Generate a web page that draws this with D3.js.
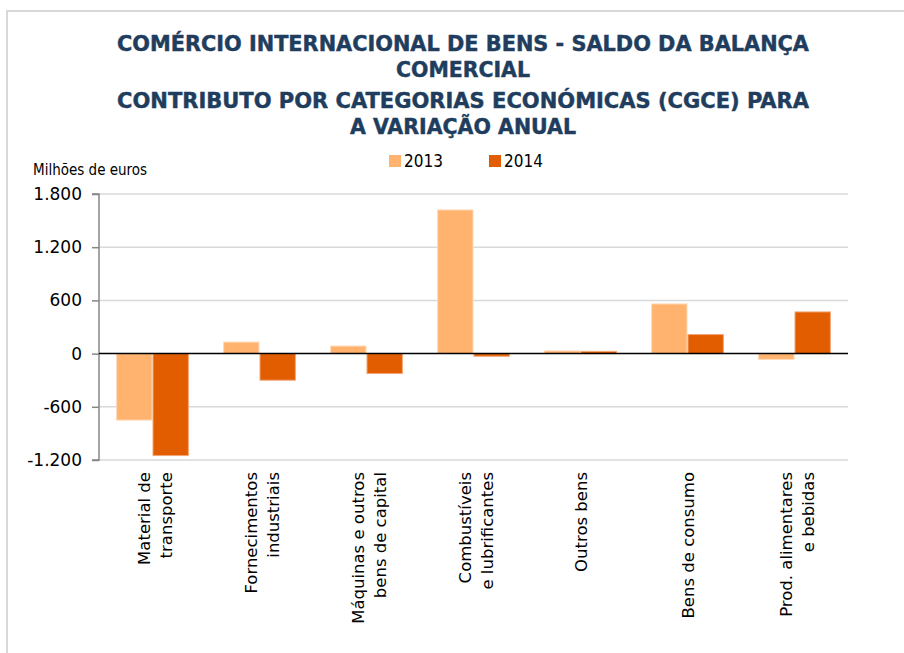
<!DOCTYPE html>
<html>
<head>
<meta charset="utf-8">
<script src="https://cdn.jsdelivr.net/npm/d3@7"></script>
<style>
  html, body { margin: 0; padding: 0; background: #fff; }
  svg { display: block; }
</style>
</head>
<body>
<svg id="chart" width="904" height="653"></svg>
<script>
// ---- data ----
const categories = [
  ["Material de", "transporte"],
  ["Fornecimentos", "industriais"],
  ["Máquinas e outros", "bens de capital"],
  ["Combustíveis", "e lubrificantes"],
  ["Outros bens"],
  ["Bens de consumo"],
  ["Prod. alimentares", "e bebidas"]
];
const seriesNames = ["2013", "2014"];
const values2013 = [-750, 130, 85, 1620, 30, 560, -65];
const values2014 = [-1150, -300, -225, -30, 25, 215, 470];
const yTicks = [-1200, -600, 0, 600, 1200, 1800];
const titleLines = [
  "COMÉRCIO INTERNACIONAL  DE BENS - SALDO DA BALANÇA",
  "COMERCIAL",
  "CONTRIBUTO POR CATEGORIAS ECONÓMICAS (CGCE) PARA",
  "A VARIAÇÃO ANUAL"
];
const yAxisTitle = "Milhões de euros";

// ---- setup ----
const colors = { "2013": "#FFB36E", "2014": "#E25C00" };
const svg = d3.select("#chart");
const catKeys = categories.map(c => c.join(" "));
const seriesValues = { "2013": values2013, "2014": values2014 };

const plotLeft = 99, plotRight = 848, plotTop = 194, plotBottom = 460;

// outer frame
svg.append("path")
  .attr("d", "M7,653 L7,11 L904,11")
  .attr("fill", "none").attr("stroke", "#D9D9D9").attr("stroke-width", 2);

// title
const titleColor = "#213D5E";
const titleBaselines = [51, 77, 108, 134];
const titleWidths = [692, 134, 692, 226];
svg.append("g").selectAll("text").data(titleLines).join("text")
  .attr("x", 463)
  .attr("y", (d, i) => titleBaselines[i])
  .attr("text-anchor", "middle")
  .attr("font-family", "'DejaVu Sans Condensed', 'DejaVu Sans', sans-serif")
  .attr("font-weight", "bold")
  .attr("font-size", 20.5)
  .attr("fill", titleColor)
  .attr("stroke", titleColor)
  .attr("stroke-width", 0.4)
  .attr("textLength", (d, i) => titleWidths[i])
  .attr("lengthAdjust", "spacingAndGlyphs")
  .text(d => d);

// legend
const legendX = [389, 489];
const lg = svg.append("g").selectAll("g").data(seriesNames).join("g")
  .attr("transform", (d, i) => `translate(${legendX[i]},0)`);
lg.append("rect").attr("x", 0).attr("y", 155).attr("width", 12).attr("height", 12)
  .attr("fill", d => colors[d]);
lg.append("text").attr("x", 15).attr("y", 167)
  .attr("font-family", "'DejaVu Sans Condensed', 'DejaVu Sans', sans-serif")
  .attr("font-size", 17).attr("fill", "#000")
  .text(d => d);

// y axis title
svg.append("text").attr("x", 33).attr("y", 175)
  .attr("font-family", "'DejaVu Sans Condensed', 'DejaVu Sans', sans-serif")
  .attr("font-size", 15).attr("fill", "#000")
  .text(yAxisTitle);

// scales
const y = d3.scaleLinear().domain([-1200, 1800]).range([plotBottom, plotTop]);
const x0 = d3.scaleBand().domain(catKeys).range([plotLeft, plotRight])
  .paddingInner(0.32).paddingOuter(0.16);
const x1 = d3.scaleBand().domain(seriesNames).range([0, x0.bandwidth()]);

const locale = d3.formatLocale({ decimal: ",", thousands: ".", grouping: [3], currency: ["", " €"], minus: "-" });
const fmt = locale.format(",");

// gridlines
svg.append("g").selectAll("line").data(yTicks.filter(t => t !== 0)).join("line")
  .attr("x1", plotLeft).attr("x2", plotRight)
  .attr("y1", d => y(d)).attr("y2", d => y(d))
  .attr("stroke", "#D9D9D9").attr("stroke-width", 1.5);

// y axis
const yAxis = d3.axisLeft(y).tickValues(yTicks).tickSize(7).tickPadding(10).tickFormat(fmt);
const ya = svg.append("g").attr("transform", `translate(${plotLeft},0)`).call(yAxis);
ya.select(".domain").attr("stroke", "#868686").attr("stroke-width", 1.5)
  .attr("d", `M-7,${plotTop}H0V${plotBottom}H-7`);
ya.selectAll(".tick line").attr("stroke", "#868686").attr("stroke-width", 1.5);
ya.selectAll(".tick text")
  .attr("font-family", "'DejaVu Sans', sans-serif")
  .attr("font-size", 17).attr("fill", "#000");

// bars
const groups = svg.append("g").selectAll("g").data(catKeys).join("g")
  .attr("transform", d => `translate(${x0(d)},0)`);
groups.selectAll("rect")
  .data((d, i) => seriesNames.map(s => ({ s, v: seriesValues[s][i] })))
  .join("rect")
  .attr("x", d => x1(d.s) + 0.5)
  .attr("width", x1.bandwidth() - 1)
  .attr("y", d => Math.min(y(d.v), y(0)))
  .attr("height", d => Math.abs(y(d.v) - y(0)))
  .attr("fill", d => colors[d.s])
  .attr("stroke", d => d.s === "2013" ? "#FFD9B8" : "#F3A673")
  .attr("stroke-width", 1);

// zero line
svg.append("line")
  .attr("x1", plotLeft).attr("x2", plotRight)
  .attr("y1", y(0)).attr("y2", y(0))
  .attr("stroke", "#000").attr("stroke-width", 1.5);

// x labels (rotated)
const lbl = svg.append("g").selectAll("g").data(categories).join("g")
  .attr("transform", (d, i) => `translate(${x0(catKeys[i]) + x0.bandwidth() / 2},472) rotate(-90)`);
lbl.each(function (d) {
  const t = d3.select(this).append("text")
    .attr("text-anchor", "end")
    .attr("font-family", "'DejaVu Sans', sans-serif")
    .attr("font-size", 16.5).attr("fill", "#000");
  const offs = d.length === 1 ? [6] : [-3, 19];
  d.forEach((line, j) => {
    t.append("tspan").attr("x", 0).attr("y", offs[j]).text(line);
  });
});
</script>
</body>
</html>
